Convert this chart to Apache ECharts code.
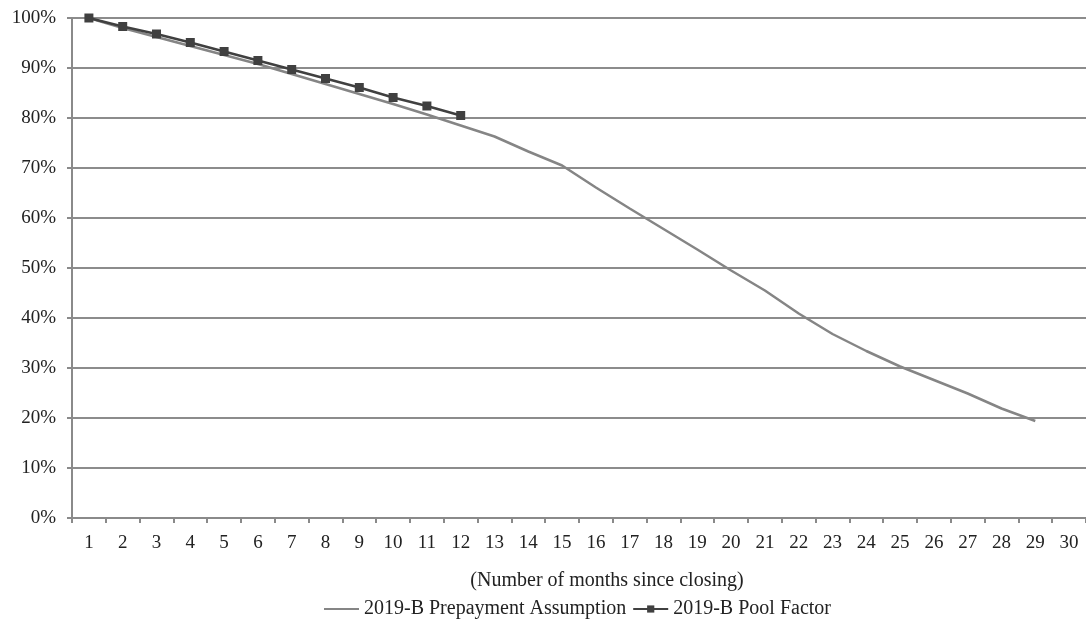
<!DOCTYPE html>
<html>
<head>
<meta charset="utf-8">
<script src="https://cdn.jsdelivr.net/npm/echarts@6/dist/echarts.min.js"></script>
<style>html,body{margin:0;padding:0;background:#fff;}#chart{width:1086px;height:637px;}</style>
</head>
<body>
<div id="chart"></div>
<script>
const months = ['1','2','3','4','5','6','7','8','9','10','11','12','13','14','15','16','17','18','19','20','21','22','23','24','25','26','27','28','29','30'];
const prepaymentAssumption = [100,98.0,96.2,94.4,92.6,90.8,88.8,86.8,84.8,82.8,80.7,78.5,76.3,73.3,70.5,66.1,61.9,57.8,53.7,49.5,45.5,40.9,36.8,33.4,30.3,27.6,24.9,21.9,19.4];
const poolFactor = [100,98.3,96.8,95.1,93.3,91.5,89.7,87.9,86.1,84.1,82.4,80.5];
const seriesNames = ['2019-B Prepayment Assumption','2019-B Pool Factor'];
const xAxisTitle = '(Number of months since closing)';

const font = 'Liberation Serif';
const chart = echarts.init(document.getElementById('chart'));
chart.setOption({
  backgroundColor: '#fff',
  animation: false,
  grid: {left: 72, right: -5, top: 18, bottom: 119, containLabel: false},
  legend: {
    bottom: 13, left: 318, itemGap: 6, itemWidth: 35, itemHeight: 9,
    textStyle: {fontFamily: font, fontSize: 20, color: '#222'},
    data: [{name: seriesNames[0], itemStyle: {opacity: 0}}, {name: seriesNames[1]}]
  },
  graphic: [{
    type: 'text', x: 607, y: 581,
    style: {text: xAxisTitle, fontFamily: font, fontSize: 20, fill: '#222', textAlign: 'center', textVerticalAlign: 'middle'}
  }],
  xAxis: {
    type: 'category', data: months, boundaryGap: true,
    axisLine: {lineStyle: {color: '#8a8a8a', width: 2}},
    axisTick: {show: true, interval: 0, length: 5, lineStyle: {color: '#8a8a8a', width: 2}},
    axisLabel: {fontFamily: font, fontSize: 19, color: '#222', margin: 16, interval: 0}
  },
  yAxis: {
    type: 'value', min: 0, max: 100, interval: 10,
    axisLine: {show: true, lineStyle: {color: '#8a8a8a', width: 2}},
    axisTick: {show: true, length: 5, lineStyle: {color: '#8a8a8a', width: 2}},
    axisLabel: {fontFamily: font, fontSize: 19, color: '#222', margin: 16, formatter: '{value}%'},
    splitLine: {lineStyle: {color: '#8c8c8c', width: 2}}
  },
  series: [
    {
      name: seriesNames[0], type: 'line', data: prepaymentAssumption,
      symbol: 'none', lineStyle: {color: '#858585', width: 2.5}, itemStyle: {color: '#858585'}, z: 2
    },
    {
      name: seriesNames[1], type: 'line', data: poolFactor,
      symbol: 'rect', symbolSize: 9, lineStyle: {color: '#404040', width: 2.5}, itemStyle: {color: '#404040'}, z: 3
    }
  ]
});
</script>
</body>
</html>
